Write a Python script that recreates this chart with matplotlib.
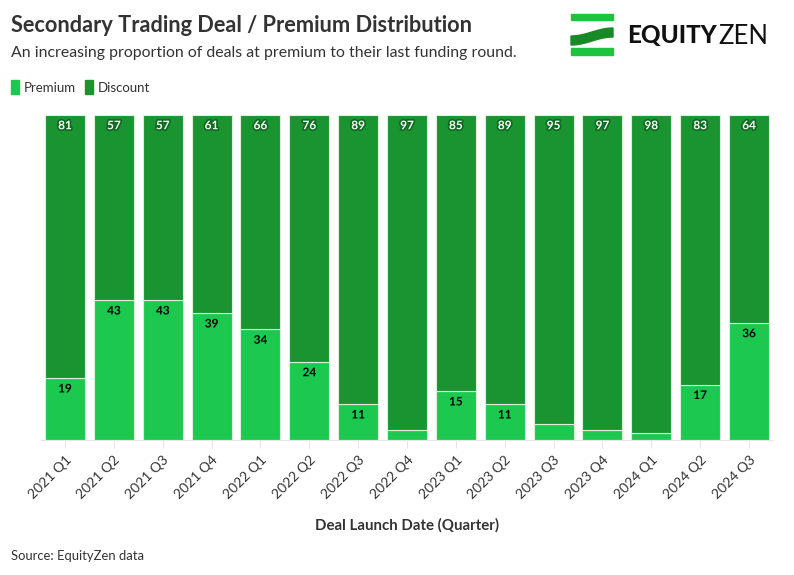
import matplotlib
matplotlib.use("Agg")
import numpy as np
import matplotlib.pyplot as plt
import matplotlib.patheffects as pe
from matplotlib.patches import Rectangle, Polygon

plt.rcParams['font.family'] = ['Lato', 'DejaVu Sans']

quarters = ["2021 Q1", "2021 Q2", "2021 Q3", "2021 Q4", "2022 Q1", "2022 Q2",
            "2022 Q3", "2022 Q4", "2023 Q1", "2023 Q2", "2023 Q3", "2023 Q4",
            "2024 Q1", "2024 Q2", "2024 Q3"]
premium = [19, 43, 43, 39, 34, 24, 11, 3, 15, 11, 5, 3, 2, 17, 36]
discount = [81, 57, 57, 61, 66, 76, 89, 97, 85, 89, 95, 97, 98, 83, 64]

c_prem = "#1cc94e"
c_disc = "#1a9431"

fig = plt.figure(figsize=(7.94, 5.75), dpi=100)
ax = fig.add_axes([0.0511, 0.2348, 0.923, 0.5652])

x = np.arange(len(quarters))
ax.bar(x, premium, width=0.82, color=c_prem, edgecolor="#d8f0dc", linewidth=0.8)
ax.bar(x, discount, bottom=premium, width=0.82, color=c_disc, edgecolor="#d8f0dc", linewidth=0.8)

for i in range(len(x)):
    if premium[i] >= 10:
        ax.text(x[i], premium[i] - 3.3, str(premium[i]), ha="center", va="center",
                fontsize=8.5, fontweight="bold", color="black",
                path_effects=[pe.withStroke(linewidth=2.5, foreground=c_prem)])
    ax.text(x[i], 96.7, str(discount[i]), ha="center", va="center",
            fontsize=8.5, fontweight="bold", color="white",
            path_effects=[pe.withStroke(linewidth=2.5, foreground="#0e6b1f")])

ax.set_xlim(-0.5, len(x) - 0.5)
ax.set_ylim(0, 100)
ax.set_yticks([])
for s in ["top", "right", "left"]:
    ax.spines[s].set_visible(False)
ax.spines["bottom"].set_color("#e6e6e6")
ax.set_xticks(x)
ax.set_xticklabels(quarters, rotation=45, ha="right", rotation_mode="anchor",
                   fontsize=10, color="#333333")
ax.tick_params(axis="x", length=6, color="#e6e6e6", pad=4)
ax.set_xlabel("Deal Launch Date (Quarter)", fontsize=10.8, fontweight="bold",
              color="#333333", labelpad=12)

fig.text(0.014, 0.955, "Secondary Trading Deal / Premium Distribution",
         fontsize=15.7, fontweight="bold", color="#333333", va="center")
fig.text(0.014, 0.907, "An increasing proportion of deals at premium to their last funding round.",
         fontsize=11.4, color="#333333", va="center")

# legend
fig.patches.append(Rectangle((11 / 794, 1 - 94 / 575), 8 / 794, 14 / 575,
                             transform=fig.transFigure, color=c_prem))
fig.text(24 / 794, 1 - 88 / 575, "Premium", fontsize=9.5, color="#333333", va="center")
fig.patches.append(Rectangle((85 / 794, 1 - 94 / 575), 8 / 794, 14 / 575,
                             transform=fig.transFigure, color=c_disc))
fig.text(98 / 794, 1 - 88 / 575, "Discount", fontsize=9.5, color="#333333", va="center")

fig.text(0.014, 0.033, "Source: EquityZen data", fontsize=9.4, color="#333333", va="center")

# logo
W, H = 794, 575
def fx(px):
    return px / W
def fy(py):
    return 1 - py / H
fig.patches.append(Rectangle((fx(571), fy(20)), fx(42), 6 / H,
                             transform=fig.transFigure, color="#1cc33e"))
fig.patches.append(Rectangle((fx(571), fy(55)), fx(42), 7 / H,
                             transform=fig.transFigure, color="#1cc33e"))
t = np.linspace(0, 1, 30)
wave = 571 + 42 * t
top = 36 - 8 * (0.5 - 0.5 * np.cos(np.pi * t))
bot = top + 9
pts = [(fx(a), fy(b)) for a, b in zip(wave, top)] + \
      [(fx(a), fy(b)) for a, b in zip(wave[::-1], bot[::-1])]
fig.patches.append(Polygon(pts, closed=True, transform=fig.transFigure,
                           color="#178a27"))
eq = fig.text(fx(627), fy(36), "EQUITY", fontsize=17.5, fontweight="black",
              color="#111111", va="center")
fig.canvas.draw()
bb = eq.get_window_extent()
fig.text(bb.x1 / W + fx(2), fy(36), "ZEN", fontsize=18.5, fontweight="normal",
         color="#111111", va="center")

fig.savefig("out.png", dpi=100, facecolor="white")
